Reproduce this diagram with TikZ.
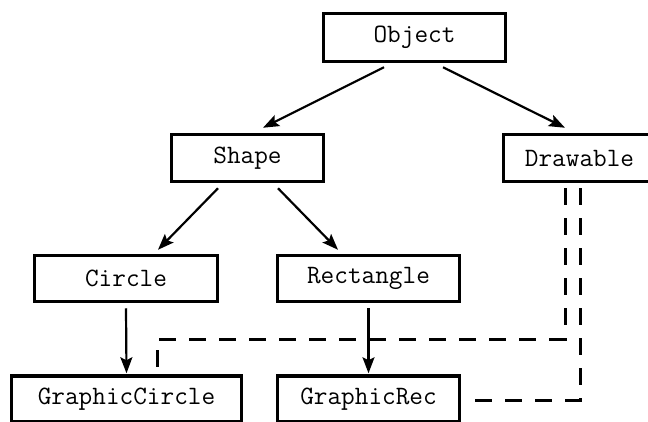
\documentclass[tikz,border=0pt]{standalone}
\usetikzlibrary{arrows.meta}
\begin{document}
\begin{tikzpicture}[x=1pt,y=-1pt,
  box/.style={draw, line width=3.5pt, font=\ttfamily\fontsize{26.5}{30}\selectfont, inner sep=0pt, minimum height=47pt},
  arr/.style={line width=2.2pt, -{Stealth[length=16pt,width=12pt,inset=3pt]}},
  dsh/.style={line width=3pt, dash pattern=on 17pt off 13pt}]
\useasboundingbox (0,0) rectangle (648,421);
\clip (0,0) rectangle (648,421);
\node[box, minimum width=182pt, minimum height=48pt] (object) at (414.5,37.5) {Object};
\node[box, minimum width=152pt] (shape) at (247.5,158) {Shape};
\node[box, minimum width=152pt] (drawable) at (579.5,158) {Drawable};
\node[box, minimum width=183pt, minimum height=46pt] (circle) at (126,278.5) {Circle};
\node[box, minimum width=182pt, minimum height=46pt] (rectangle) at (368.5,278.5) {Rectangle};
\node[box, minimum width=230pt, minimum height=46pt] (gcircle) at (126.5,399) {GraphicCircle};
\node[box, minimum width=182pt, minimum height=46pt] (grec) at (368.5,399) {GraphicRec};
% solid inheritance arrows
\draw[arr] ([xshift=-30.5pt,yshift=-4pt]object.south) -- ([xshift=15.5pt,yshift=5pt]shape.north);
\draw[arr] ([xshift=28.5pt,yshift=-4pt]object.south) -- ([xshift=-14.5pt,yshift=5pt]drawable.north);
\draw[arr] ([xshift=-29.5pt,yshift=-5pt]shape.south) -- ([xshift=32pt,yshift=4pt]circle.north);
\draw[arr] ([xshift=30.5pt,yshift=-5pt]shape.south) -- ([xshift=-30.5pt,yshift=4pt]rectangle.north);
\draw[arr] ([yshift=-5pt]circle.south) -- ([yshift=1pt]gcircle.north);
\draw[arr] ([yshift=-5pt]rectangle.south) -- ([yshift=1pt]grec.north);
% dashed interface connectors
\coordinate (dA) at ([xshift=-14.5pt,yshift=-5pt]drawable.south);
\coordinate (dB) at ([xshift=0.5pt,yshift=-5pt]drawable.south);
\coordinate (gA) at ([xshift=30.5pt,yshift=5pt]gcircle.north);
\coordinate (grE) at ([xshift=13pt,yshift=-1pt]grec.east);
\coordinate (hy) at (0,339);
\draw[dsh] (dA) -- (dA |- hy) -| (gA);
\draw[dsh] (dB) |- (grE);
\end{tikzpicture}
\end{document}
